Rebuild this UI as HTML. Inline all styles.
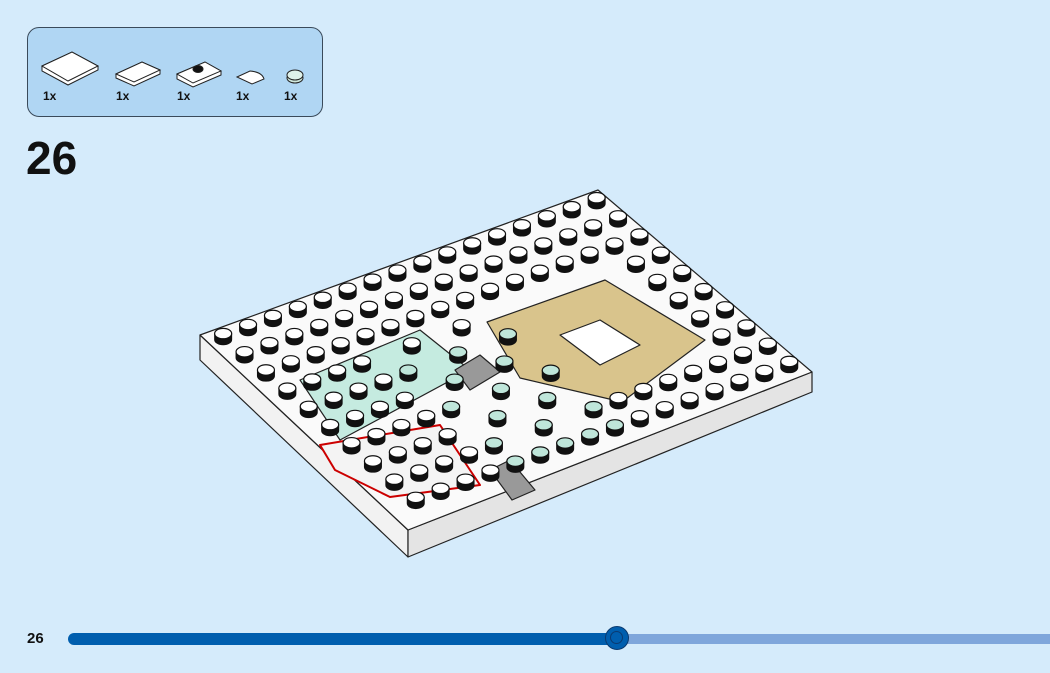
<!DOCTYPE html>
<html><head><meta charset="utf-8"><style>
html,body{margin:0;padding:0}
body{width:1050px;height:673px;background:#d5ebfb;position:relative;overflow:hidden;font-family:"Liberation Sans",sans-serif}
.box{position:absolute;left:27px;top:27px;width:294px;height:88px;background:#b0d6f3;border:1.5px solid #3a4a5a;border-radius:12px}
.q{position:absolute;top:89px;font-size:12px;font-weight:bold;color:#111}
.step{position:absolute;left:26px;top:131px;font-size:46px;font-weight:bold;color:#111}
.pg{position:absolute;left:27px;top:630px;font-size:15px;font-weight:bold;color:#111}
.bar1{position:absolute;left:68px;top:633px;width:552px;height:12px;background:#005eae;border-radius:6px}
.bar2{position:absolute;left:620px;top:634px;width:430px;height:10px;background:#7fa6db}
.knob{position:absolute;left:605px;top:626px;width:24px;height:24px;border-radius:50%;background:#005eae;border:1.5px solid #0a3a70;box-sizing:border-box}
.knob:after{content:"";position:absolute;left:4px;top:4px;width:13px;height:13px;border-radius:50%;border:1.5px solid #0a3a70;box-sizing:border-box}
</style></head><body>
<div class="box"></div>
<svg style="position:absolute;left:0;top:0" width="340" height="120">
<g stroke="#222" stroke-width="1" fill="#fff">
<polygon points="42,66 72,52 98,66 98,70 68,85 42,71"/><polygon points="42,66 72,52 98,66 68,81" />
<polygon points="116,74 142,62 160,70 160,74 134,86 116,78"/><polygon points="116,74 142,62 160,70 134,82"/>
<polygon points="177,74 205,62 221,71 221,75 193,87 177,79"/><polygon points="177,74 205,62 221,71 193,83"/>
<ellipse cx="198" cy="69" rx="5" ry="3.5" fill="#111"/>
<path d="M237,77 L250,71 Q262,72 264,79 L252,84 Z"/>
<ellipse cx="295" cy="78" rx="8" ry="5" fill="#cfe8dc"/><ellipse cx="295" cy="75" rx="8" ry="5" fill="#dff2ea"/>
</g></svg>
<div class="q" style="left:43px">1x</div><div class="q" style="left:116px">1x</div><div class="q" style="left:177px">1x</div><div class="q" style="left:236px">1x</div><div class="q" style="left:284px">1x</div>
<div class="step">26</div>
<svg id="m" style="position:absolute;left:0;top:0" width="1050" height="600">
<g stroke="#222" stroke-width="1.2" stroke-linejoin="round">
<polygon points="200,335 408,530 408,557 200,360" fill="#f2f2f2"/>
<polygon points="408,530 812,372 812,392 408,557" fill="#e4e4e4"/>
<polygon points="200,335 598,190 812,372 408,530" fill="#fafafa"/>
<polygon points="487,322 605,280 705,340 622,402 520,378" fill="#d9c48c"/>
<polygon points="560,335 600,320 640,345 600,365" fill="#fff"/>
<polygon points="300,380 420,330 470,370 340,440" fill="#c5ebe0"/>
<polygon points="320,445 440,425 480,485 390,497 335,470" fill="#f4f4f4" stroke="#c00" stroke-width="2"/>
<polygon points="490,470 510,460 535,490 512,500" fill="#999"/>
<polygon points="455,370 480,355 500,372 470,390" fill="#999"/>
</g><g id="st"></g></svg>
<div class="pg">26</div>
<div class="bar2"></div><div class="bar1"></div><div class="knob"></div>
<script>
var g=document.getElementById('st'),L=[200,335],u=[24.9,-9.06],v=[21.4,18.2],a=[];
for(var i=0;i<16;i++)for(var j=0;j<10;j++){
 if(i>=9&&i<=13&&j>=3&&j<=7)continue;
 if(i>=4&&i<=8&&j>=3&&j<=8&&(i+j)%2)continue;
 var x=L[0]+(i+.5)*u[0]+(j+.5)*v[0],y=L[1]+(i+.5)*u[1]+(j+.5)*v[1]-6;
 a.push([x,y,(i>=4&&i<=8&&j>=4)]);}
a.sort(function(p,q){return p[1]-q[1]});
var s='';a.forEach(function(p){var x=p[0],y=p[1],c=p[2]?'#bfe6da':'#fff';
 s+='<path d="M'+(x-8.5)+','+y+' v6 a8.5,5.2 0 0 0 17,0 v-6" fill="#111" stroke="#111"/><ellipse cx="'+x+'" cy="'+y+'" rx="8.5" ry="5.2" fill="'+c+'" stroke="#111" stroke-width="1.2"/>';});
g.innerHTML=s;
</script>
</body></html>
